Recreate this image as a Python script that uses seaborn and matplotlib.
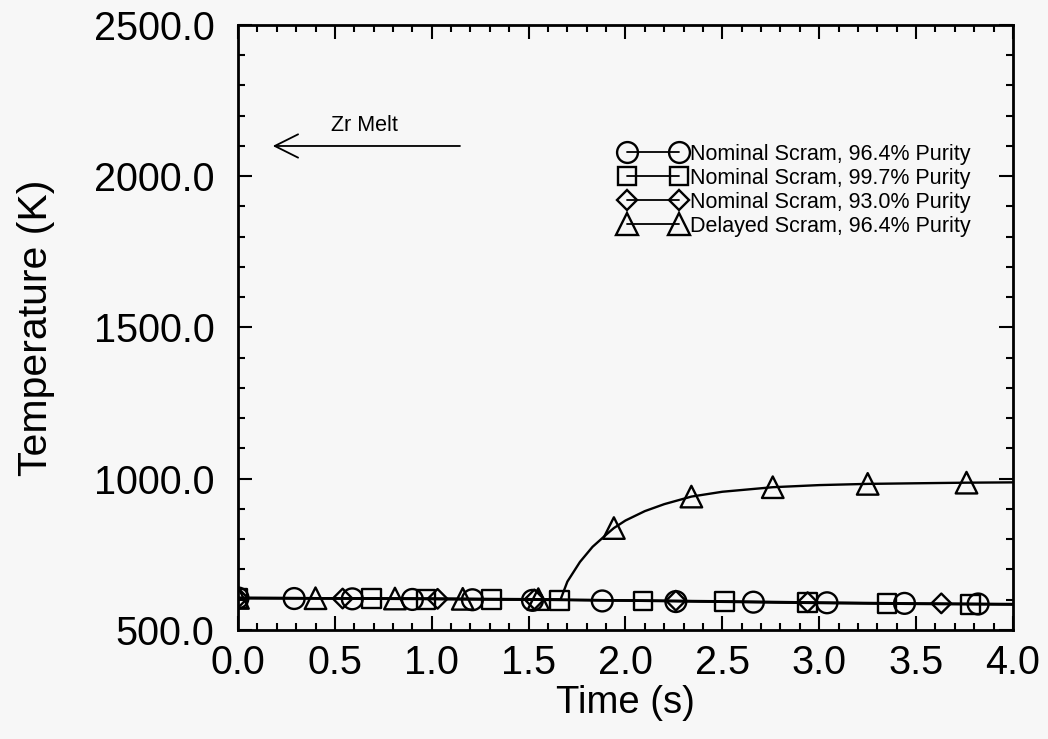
import seaborn as sns
import matplotlib.pyplot as plt
import pandas as pd
import numpy as np
from matplotlib.lines import Line2D
from matplotlib.ticker import MultipleLocator, FormatStrFormatter

# curves (time in s, temperature in K)
t_nom = [0.0, 0.5, 1.0, 1.5, 2.0, 2.5, 3.0, 3.5, 4.0]
T_nom964 = [606, 605, 603, 601, 598, 594, 590, 587, 585]
T_nom997 = [605, 604, 602, 600, 597, 593, 589, 586, 584]
T_nom930 = [606, 605, 603, 601, 598, 595, 591, 588, 586]

t_del = [0.0, 0.5, 1.0, 1.5, 1.665, 1.70, 1.765, 1.83, 1.90, 1.94, 2.0, 2.1, 2.2,
         2.34, 2.5, 2.76, 3.0, 3.25, 3.5, 3.76, 4.0]
T_del = [606, 605, 604, 602, 601, 660, 725, 775, 815, 837, 862, 893, 916,
         941, 957, 972, 979, 983, 985, 987, 988]

# symbol positions
mk_t_964 = [0.0, 0.29, 0.59, 0.90, 1.21, 1.52, 1.88, 2.26, 2.66, 3.04, 3.44, 3.82]
mk_T_964 = [606, 604, 603, 601, 600, 598, 596, 594, 592, 590, 588, 586]
mk_t_997 = [0.0, 0.69, 0.97, 1.31, 1.66, 2.09, 2.51, 2.94, 3.35, 3.78]
mk_T_997 = [605, 603, 602, 600, 598, 596, 593, 590, 588, 585]
mk_t_930 = [0.0, 0.54, 1.03, 1.53, 2.26, 2.94, 3.63]
mk_T_930 = [606, 604, 603, 601, 597, 592, 588]
mk_t_del = [0.0, 0.40, 0.81, 1.16, 1.55, 1.94, 2.34, 2.76, 3.25, 3.76]
mk_T_del = [606, 605, 604, 603, 602, 837, 941, 972, 983, 987]

labels = ['Nominal Scram, 96.4% Purity', 'Nominal Scram, 99.7% Purity',
          'Nominal Scram, 93.0% Purity', 'Delayed Scram, 96.4% Purity']

sns.set_style('ticks')
plt.rcParams['font.family'] = ['Liberation Sans', 'DejaVu Sans']
plt.rcParams['text.color'] = 'black'
bg = '#f7f7f7'

fig = plt.figure(figsize=(10.48, 7.39), dpi=100, facecolor=bg)
ax = fig.add_axes([0.2271, 0.1475, 0.7395, 0.8187], facecolor=bg)

lw = 1.7
series = [
    (t_nom, T_nom964, mk_t_964, mk_T_964, 'o', 15),
    (t_nom, T_nom997, mk_t_997, mk_T_997, 's', 13.5),
    (t_nom, T_nom930, mk_t_930, mk_T_930, 'D', 10),
    (t_del, T_del, mk_t_del, mk_T_del, '^', 15.5),
]
handles = []
for (tc, Tc, tm, Tm, m, ms), lab in zip(series, labels):
    sns.lineplot(x=tc, y=Tc, color='black', lw=lw, ax=ax, sort=False)
    sns.scatterplot(x=tm, y=Tm, marker=m, s=ms ** 2, facecolors='none',
                    edgecolor='black', linewidth=lw, ax=ax, zorder=3)
    handles.append(Line2D([], [], color='black', lw=1.3, marker=m, ms=ms,
                          mfc='none', mec='black', mew=lw))

ax.legend(handles, labels, loc='upper left', bbox_to_anchor=(0.4935, 0.804),
          numpoints=2, handlelength=3.0, handletextpad=0.25, frameon=False,
          fontsize=15.5, labelspacing=0.14, borderpad=0, borderaxespad=0,
          labelcolor='black')

# Zr melt annotation
ax.annotate('', xy=(0.165, 2100), xytext=(1.16, 2100),
            arrowprops=dict(arrowstyle='->', color='black', lw=1.3, mutation_scale=42))
ax.text(0.655, 2169, 'Zr Melt', fontsize=15.5, ha='center', va='center', color='black')

ax.set_xlim(0, 4)
ax.set_ylim(500, 2500)
ax.xaxis.set_major_locator(MultipleLocator(0.5))
ax.xaxis.set_minor_locator(MultipleLocator(0.1))
ax.yaxis.set_major_locator(MultipleLocator(500))
ax.yaxis.set_minor_locator(MultipleLocator(100))
ax.xaxis.set_major_formatter(FormatStrFormatter('%.1f'))
ax.yaxis.set_major_formatter(FormatStrFormatter('%.1f'))
ax.tick_params(which='both', direction='in', top=True, right=True, width=1.5,
               colors='black', labelcolor='black')
ax.tick_params(which='major', length=10, labelsize=28.5)
ax.tick_params(which='minor', length=5)
ax.tick_params(axis='y', which='major', pad=17)
ax.tick_params(axis='x', which='major', pad=10)
for sp in ax.spines.values():
    sp.set_linewidth(2)
    sp.set_color('black')

ax.set_xlabel('Time (s)', fontsize=27.5, labelpad=2, color='black')
ax.set_ylabel('Temperature (K)', fontsize=29.5, labelpad=28, color='black')

fig.savefig('out.png', dpi=100, facecolor=bg)
